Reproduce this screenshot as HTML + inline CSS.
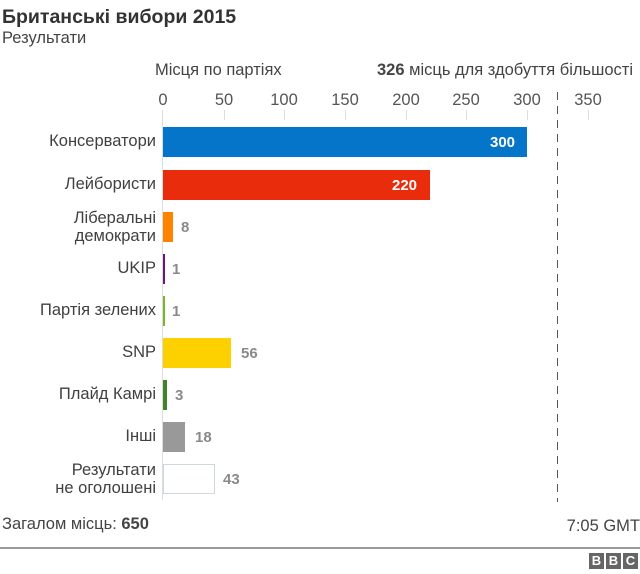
<!DOCTYPE html>
<html><head><meta charset="utf-8"><style>
body{margin:0;width:640px;height:574px;background:#fff;font-family:"Liberation Sans",Arial,sans-serif;color:#404040;position:relative;overflow:hidden}
.a{position:absolute;white-space:nowrap}
.lab{position:absolute;right:484px;text-align:right;font-size:16.5px;color:#404040;line-height:18px}
.bar{position:absolute;left:163px;height:30px}
.v{position:absolute;font-size:15px;font-weight:bold;color:#8a8a8a}
.t{position:absolute;top:91px;font-size:16.5px;color:#555;transform:translateX(-50%)}
.tk{position:absolute;top:110px;width:1px;height:10px;background:#ddd}
</style></head><body>
<div class="a" style="left:2px;top:6px;font-size:19.5px;font-weight:bold;color:#333">Британські вибори 2015</div>
<div class="a" style="left:2px;top:29px;font-size:16.5px;color:#444">Результати</div>
<div class="a" style="left:155px;top:61px;font-size:16.5px;color:#444">Місця по партіях</div>
<div class="a" style="left:377px;top:61px;font-size:16.5px;color:#444"><b>326</b> місць для здобуття більшості</div>
<div class="t" style="left:163px">0</div><div class="t" style="left:224px">50</div><div class="t" style="left:284px">100</div><div class="t" style="left:345px">150</div><div class="t" style="left:406px">200</div><div class="t" style="left:466px">250</div><div class="t" style="left:527px">300</div><div class="t" style="left:588px">350</div>
<div class="tk" style="left:224px"></div><div class="tk" style="left:284px"></div><div class="tk" style="left:345px"></div><div class="tk" style="left:406px"></div><div class="tk" style="left:466px"></div><div class="tk" style="left:527px"></div><div class="tk" style="left:588px"></div>
<div class="a" style="left:162px;top:110px;width:1px;height:390px;background:#ddd"></div>
<div class="a" style="left:557px;top:92px;width:1px;height:410px;background:repeating-linear-gradient(to bottom,#555 0 8px,transparent 8px 14px)"></div>
<div class="lab" style="top:132px">Консерватори</div>
<div class="bar" style="top:127px;width:364px;background:#0575c9"></div>
<div class="v" style="left:490px;top:134px;color:#fff">300</div>
<div class="lab" style="top:175px">Лейбористи</div>
<div class="bar" style="top:170px;width:267px;background:#e82c0c"></div>
<div class="v" style="left:392px;top:177px;color:#fff">220</div>
<div class="lab" style="top:209px">Ліберальні<br>демократи</div>
<div class="bar" style="top:212px;width:10px;background:#fe8300"></div>
<div class="v" style="left:181px;top:219px">8</div>
<div class="lab" style="top:259px">UKIP</div>
<div class="bar" style="top:254px;width:2px;background:#70147a"></div>
<div class="v" style="left:172px;top:261px">1</div>
<div class="lab" style="top:301px">Партія зелених</div>
<div class="bar" style="top:296px;width:2px;background:#78b82a"></div>
<div class="v" style="left:172px;top:303px">1</div>
<div class="lab" style="top:343px">SNP</div>
<div class="bar" style="top:338px;width:68px;background:#fdd000"></div>
<div class="v" style="left:241px;top:345px">56</div>
<div class="lab" style="top:385px">Плайд Камрі</div>
<div class="bar" style="top:380px;width:4px;background:#3f8428"></div>
<div class="v" style="left:175px;top:387px">3</div>
<div class="lab" style="top:427px">Інші</div>
<div class="bar" style="top:422px;width:22px;background:#999"></div>
<div class="v" style="left:195px;top:429px">18</div>
<div class="lab" style="top:461px">Результати<br>не оголошені</div>
<div class="bar" style="top:464px;width:52px;border:1px solid #cfd8dc;box-sizing:border-box"></div>
<div class="v" style="left:223px;top:471px">43</div>
<div class="a" style="left:2px;top:515px;font-size:16.5px;color:#444">Загалом місць: <b>650</b></div>
<div class="a" style="right:0;top:517px;font-size:16.5px;color:#444">7:05 GMT</div>
<div class="a" style="left:0;top:547px;width:640px;height:2px;background:#999"></div>
<div class="a" style="left:589px;top:553px;display:flex;gap:2px">
<span style="width:15px;height:16px;background:#666;color:#fff;font-weight:bold;font-size:13px;text-align:center;line-height:16px">B</span>
<span style="width:15px;height:16px;background:#666;color:#fff;font-weight:bold;font-size:13px;text-align:center;line-height:16px">B</span>
<span style="width:15px;height:16px;background:#666;color:#fff;font-weight:bold;font-size:13px;text-align:center;line-height:16px">C</span></div>
</body></html>
